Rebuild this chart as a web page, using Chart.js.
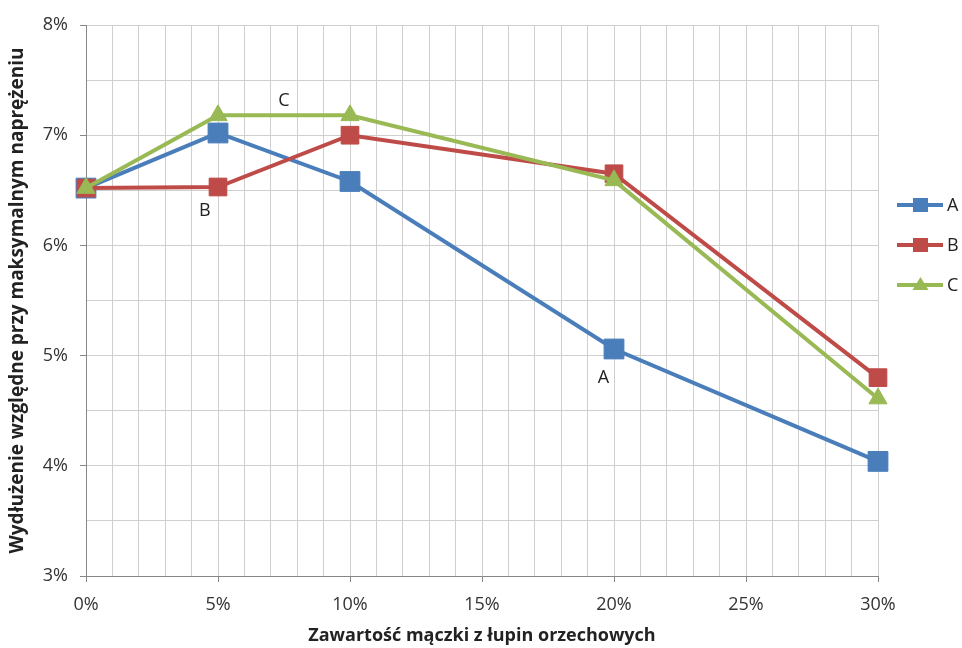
<!DOCTYPE html>
<html>
<head>
<meta charset="utf-8">
<script src="https://cdn.jsdelivr.net/npm/chart.js@4/dist/chart.umd.min.js"></script>
<style>html,body{margin:0;padding:0;background:#fff;}canvas{display:block;}</style>
</head>
<body>
<canvas id="c" width="962" height="648"></canvas>
<script>
const xValues = [0, 5, 10, 20, 30];
const seriesA = [6.52, 7.02, 6.58, 5.06, 4.04];
const seriesB = [6.52, 6.53, 7.00, 6.65, 4.80];
const seriesC = [6.52, 7.18, 7.18, 6.59, 4.61];
const seriesNames = ['A', 'B', 'C'];
const annotationText = ['A', 'B', 'C'];
const annotationX = [19.6, 4.5, 7.5];
const annotationY = [4.80, 6.31, 7.31];
const xTitle = 'Zawartość mączki z łupin orzechowych';
const yTitle = 'Wydłużenie względne przy maksymalnym naprężeniu';

const colors = ['#4a7ebb', '#be4b48', '#98b954'];
const styles = ['rect', 'rect', 'triangle'];
const radii = [14, 12.5, 10.5];
const FONT = "'Open Sans', sans-serif";

function pts(arr){ return xValues.map((x,i)=>({x:x, y:arr[i]})); }
const allSeries = [seriesA, seriesB, seriesC];

const datasets = allSeries.map((s,i)=>({
  label: seriesNames[i],
  data: pts(s),
  borderColor: colors[i],
  backgroundColor: colors[i],
  borderWidth: 4,
  pointStyle: styles[i],
  pointRadius: radii[i],
  pointHoverRadius: radii[i],
  pointBorderWidth: 1,
  pointBorderColor: colors[i],
  tension: 0,
  clip: false,
  order: 2 - i
}));

const annotPlugin = {
  id: 'annot',
  afterDatasetsDraw(chart){
    const ctx = chart.ctx, xs = chart.scales.x, ys = chart.scales.y;
    ctx.save();
    ctx.fillStyle = '#222';
    ctx.font = "18px " + FONT;
    ctx.textAlign = 'center';
    ctx.textBaseline = 'middle';
    annotationText.forEach((t,i)=>{
      ctx.fillText(t, xs.getPixelForValue(annotationX[i]), ys.getPixelForValue(annotationY[i]));
    });
    ctx.restore();
  }
};

const legendPlugin = {
  id: 'customLegend',
  afterDraw(chart){
    const ctx = chart.ctx;
    ctx.save();
    seriesNames.forEach((n,i)=>{
      const y = 205 + 40*i;
      ctx.strokeStyle = colors[i];
      ctx.lineWidth = 4;
      ctx.beginPath(); ctx.moveTo(897,y); ctx.lineTo(943,y); ctx.stroke();
      ctx.fillStyle = colors[i];
      if (styles[i] === 'rect') {
        ctx.fillRect(913, y-7, 15, 14);
      } else {
        ctx.beginPath(); ctx.moveTo(920.5, y-8); ctx.lineTo(928.5, y+5); ctx.lineTo(912.5, y+5); ctx.closePath(); ctx.fill();
      }
      ctx.fillStyle = '#222';
      ctx.font = "18px " + FONT;
      ctx.textAlign = 'left';
      ctx.textBaseline = 'middle';
      ctx.fillText(n, 947, y+1);
    });
    ctx.restore();
  }
};

new Chart(document.getElementById('c'), {
  type: 'line',
  data: { datasets },
  options: {
    responsive: false,
    animation: false,
    layout: { padding: { top: 25, right: 84, left: 0, bottom: 0 } },
    plugins: { legend: { display: false }, tooltip: { enabled: false } },
    scales: {
      x: {
        type: 'linear', min: 0, max: 30,
        afterFit(s){ s.height = 72; },
        ticks: {
          stepSize: 1, autoSkip: false, maxRotation: 0,
          color: '#333', font: { family: FONT, size: 18 }, padding: 12,
          callback: v => (v % 5 === 0 ? v + '%' : '')
        },
        grid: {
          color: '#cfcfcf', lineWidth: 1, tickLength: 6,
          tickColor: c => (c.tick && c.tick.value % 5 === 0 ? '#868686' : 'rgba(0,0,0,0)')
        },
        border: { color: '#868686', width: 1 },
        title: { display: true, text: xTitle, color: '#222', font: { family: FONT, size: 18, weight: 'bold' }, padding: { top: 0, bottom: 1 } }
      },
      y: {
        type: 'linear', min: 3, max: 8,
        afterFit(s){ s.width = 86; },
        ticks: {
          stepSize: 0.5, autoSkip: false,
          color: '#333', font: { family: FONT, size: 18 }, padding: 12,
          callback: v => (Number.isInteger(v) ? v + '%' : '')
        },
        grid: {
          color: '#cfcfcf', lineWidth: 1, tickLength: 6,
          tickColor: c => (c.tick && Number.isInteger(c.tick.value) ? '#868686' : 'rgba(0,0,0,0)')
        },
        border: { color: '#868686', width: 1 },
        title: { display: true, text: yTitle, color: '#222', font: { family: FONT, size: 19, weight: 'bold' }, padding: { top: 6, bottom: 0 } }
      }
    }
  },
  plugins: [annotPlugin, legendPlugin]
});
</script>
</body>
</html>
